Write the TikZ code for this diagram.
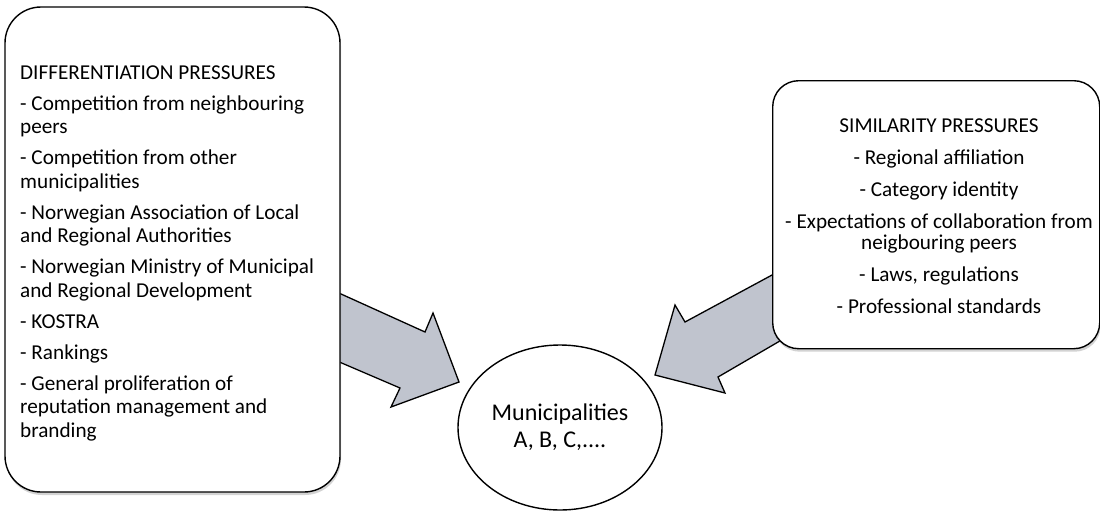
\documentclass[tikz,border=0pt]{standalone}
\usepackage{fontspec}
\setmainfont{Carlito}
\usetikzlibrary{shadows,backgrounds,shapes.geometric}
\definecolor{arrowfill}{RGB}{192,196,206}
\tikzset{
  pbox/.style={draw=black, line width=1.4pt, fill=white,
    drop shadow={shadow xshift=1pt, shadow yshift=-3pt, opacity=0.35}},
  blockarrow/.style={draw=black, line width=1.3pt, fill=arrowfill, line join=miter},
  boxtext/.style={inner sep=0pt, font=\fontsize{21.2}{23.5}\selectfont},
}
\begin{document}
\begin{tikzpicture}[x=1pt, y=-1pt]
\useasboundingbox (0,0) rectangle (1100,512);
% block arrows (behind the boxes)
\draw[blockarrow] (330,289) -- (425,332) -- (433,313) -- (459,382) -- (391,407) -- (400,388) -- (330,358) -- cycle;
\draw[blockarrow] (785,268) -- (685,322) -- (675,305) -- (655,375) -- (725,393) -- (718,377) -- (785,338) -- cycle;
% boxes
\draw[pbox, rounded corners=36pt] (5,7) rectangle (340,492);
\node[pbox, rounded corners=26pt, minimum width=327pt, minimum height=268pt, anchor=north west] (sim) at (772,80) {};
\node[boxtext, anchor=north west, align=left] (diff) at (20,65.2) {DIFFERENTIATION PRESSURES\\[7.5pt]
- Competition from neighbouring\\ peers\\[7.5pt]
- Competition from other\\ municipalities\\[7.5pt]
- Norwegian Association of Local\\ and Regional Authorities\\[7.5pt]
- Norwegian Ministry of Municipal\\ and Regional Development\\[7.5pt]
- KOSTRA\\[7.5pt]
- Rankings\\[7.5pt]
- General proliferation of\\ reputation management and\\ branding};
\node[boxtext, anchor=north, align=center] (simtext) at (939,118.2) {SIMILARITY PRESSURES\\[8.5pt]
- Regional affiliation\\[8.5pt]
- Category identity\\[8.5pt]
- Expectations of collaboration from\\[-2.5pt] neigbouring peers\\[8.5pt]
- Laws, regulations\\[8.5pt]
- Professional standards};
% ellipse
\node[draw=black, line width=1.4pt, fill=white, ellipse, minimum width=204pt, minimum height=165pt, inner sep=0pt,
  font=\fontsize{24}{27}\selectfont, align=center] (mun) at (560,427.5) {Municipalities\\ A, B, C,....};
\end{tikzpicture}
\end{document}
